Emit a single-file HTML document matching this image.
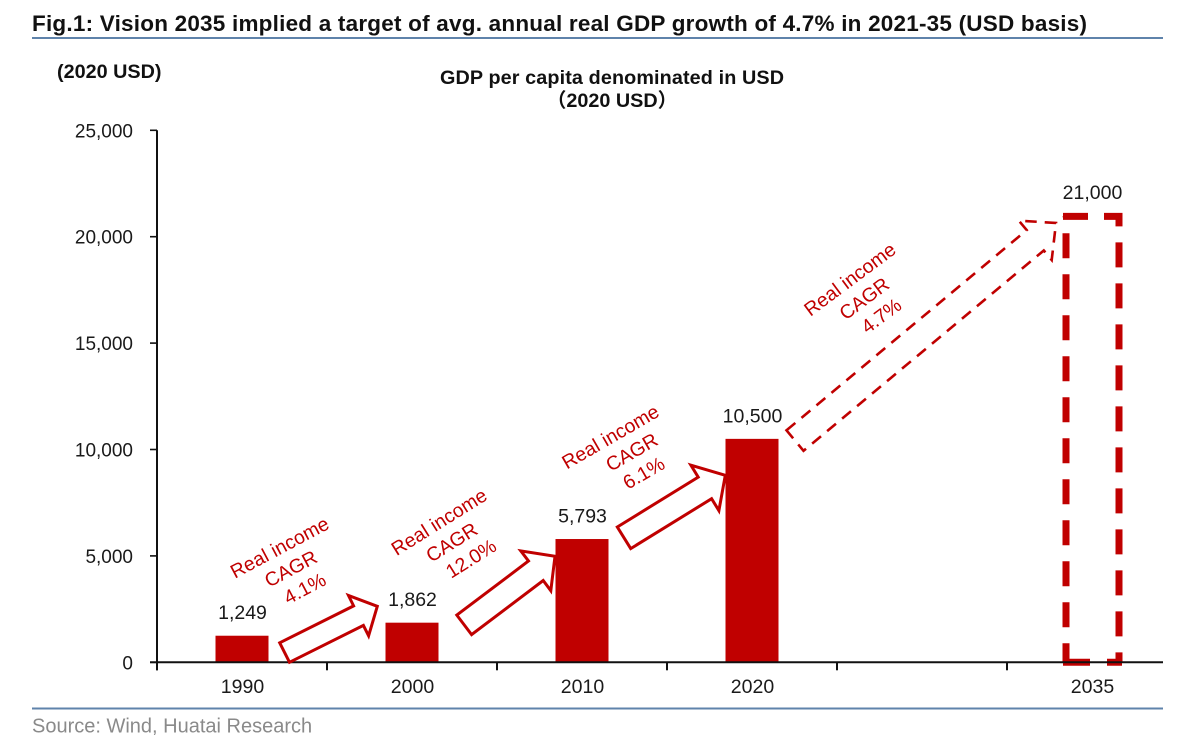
<!DOCTYPE html>
<html lang="en">
<head>
<meta charset="utf-8">
<title>Vision 2035 GDP per capita chart</title>
<style>
html,body{margin:0;padding:0;background:#fff;width:1203px;height:751px;overflow:hidden}
svg{display:block;font-family:"Liberation Sans",Arial,sans-serif}
</style>
</head>
<body>
<svg id="chart" width="1203" height="751" viewBox="0 0 1203 751" xmlns="http://www.w3.org/2000/svg">
  <rect width="1203" height="751" fill="#fff"/>
  <text x="32" y="31" font-size="22.5" font-weight="bold" fill="#111" textLength="1055" lengthAdjust="spacing">Fig.1: Vision 2035 implied a target of avg. annual real GDP growth of 4.7% in 2021-35 (USD basis)</text>
  <line x1="32" x2="1163" y1="38" y2="38" stroke="#5f83ab" stroke-width="2"/>
  <text x="57" y="78" font-size="19.8" font-weight="bold" fill="#111">(2020 USD)</text>
  <text x="612" y="84" font-size="19.8" font-weight="bold" fill="#111" text-anchor="middle" textLength="344" lengthAdjust="spacing">GDP per capita denominated in USD</text>
  <text x="612" y="107" font-size="19.8" font-weight="bold" fill="#111" text-anchor="middle" style="font-family:'Liberation Sans','Noto Sans CJK SC',sans-serif">（2020 USD）</text>
  <g id="plot"></g>
  <line x1="32" x2="1163" y1="708.5" y2="708.5" stroke="#5f83ab" stroke-width="2"/>
  <text x="32" y="732.5" font-size="20" fill="#8a8a8a">Source: Wind, Huatai Research</text>
</svg>
<script>
// ---- chart data ----
const categories = ['1990', '2000', '2010', '2020', '', '2035'];
const values = [1249, 1862, 5793, 10500, null, 21000];
const valueLabels = ['1,249', '1,862', '5,793', '10,500', '', '21,000'];
const projected = [false, false, false, false, false, true];
const yTicks = [0, 5000, 10000, 15000, 20000, 25000];
const yTickLabels = ['0', '5,000', '10,000', '15,000', '20,000', '25,000'];
const cagrFrom = [0, 1, 2, 3];
const cagrTo = [1, 2, 3, 5];
const cagrLabels = ['4.1%', '12.0%', '6.1%', '4.7%'];

// ---- axis functions ----
const RED = '#c00000';
const INK = '#1a1a1a';
const yScale = function (v) { return 662.3 - v * 532 / 25000; };
const xEdge = function (i) { return 157 + i * 170; };
const xCenter = function (i) { return xEdge(i) + 85; };
const BAR_W = 53;

const plot = document.getElementById('plot');
const NS = 'http://www.w3.org/2000/svg';
function make(tag, attrs, parent, text) {
  const el = document.createElementNS(NS, tag);
  Object.keys(attrs).forEach(function (k) { el.setAttribute(k, attrs[k]); });
  if (text !== undefined) el.textContent = text;
  (parent || plot).appendChild(el);
  return el;
}

// ---- historical and projected bars ----
categories.forEach(function (cat, i) {
  if (values[i] === null) return;
  const top = yScale(values[i]);
  const base = yScale(0);
  const cx = xCenter(i);
  if (!projected[i]) {
    const bar = make('rect', { x: cx - BAR_W / 2, y: top, width: BAR_W, height: base - top, fill: RED });
    
    
  } else {
    const g = make('g', { fill: 'none', stroke: RED, 'stroke-width': 7 });
    
    
    const l = cx - 26, r = cx + 27, t = top + 1;
    make('path', { d: 'M' + (l - 3) + ' ' + t + 'H' + r + 'V' + base, 'stroke-dasharray': '25 16' }, g);
    make('path', { d: 'M' + l + ' ' + base + 'V' + t, 'stroke-dasharray': '19 16 25 16 25 16 25 16 25 16 25 16 25 16 25 16 25 16 25 16 25 16' }, g);
    make('path', { d: 'M' + (l - 3) + ' ' + base + 'H' + (r + 3), 'stroke-dasharray': '27 17' }, g);
  }
  const lab = make('text', { x: cx + 0.5, y: top - 16.5, 'font-size': 19.5, fill: INK, 'text-anchor': 'middle' }, plot, valueLabels[i]);
  
  
});

// ---- axes ----
const yAxis = make('line', { x1: 157, x2: 157, y1: yScale(25000), y2: yScale(0) + 8, stroke: '#111', 'stroke-width': 2 });


const xAxis = make('line', { x1: 150, x2: 1163, y1: yScale(0), y2: yScale(0), stroke: '#111', 'stroke-width': 2 });



yTicks.forEach(function (t, i) {
  const y = yScale(t);
  const tick = make('line', { x1: 150, x2: 157, y1: y, y2: y, stroke: '#111', 'stroke-width': 1.6 });
  
  
  const lab = make('text', { x: 133, y: y + 7, 'font-size': 19, fill: INK, 'text-anchor': 'end' }, plot, yTickLabels[i]);
  
  
});

categories.forEach(function (cat, i) {
  const tick = make('line', { x1: xEdge(i), x2: xEdge(i), y1: yScale(0), y2: yScale(0) + 8, stroke: '#111', 'stroke-width': 2 });
  
  
  if (cat) {
    const lab = make('text', { x: xCenter(i) + 0.5, y: 693, 'font-size': 19.5, fill: INK, 'text-anchor': 'middle' }, plot, cat);
    
    
  }
});

// ---- growth arrows and their labels ----
const tailDx = [42.6, 52.2, 42, 43];
const tailDy = [16.8, 2.2, -1.2, 1.7];
const tipDx = [-34.7, -27, -26.7, -36];
const tipDy = [-16.4, 17.3, 36.4, 7.6];
const shaftHalf = [10.9, 12.2, 12.7, 13.3];
const headHalf = [22.5, 24.9, 26.7, 25.7];
const headLen = [21, 24, 24, 27];
const labelDx = [-40.3, -58, -43, -61.5];
const labelDy = [-61, -48.6, -54.6, -33.5];
const labelAngle = [-28, -32, -30, -36.7];
const line1Shift = [0, 0, -10.8, 0];
const line3Shift = [3, 7.7, 0, 3.4];

function arrowPoints(tx, ty, px, py, sw, hw, hl) {
  const dx = px - tx, dy = py - ty, len = Math.hypot(dx, dy);
  const ux = dx / len, uy = dy / len, nx = -uy, ny = ux;
  const bx = px - ux * hl, by = py - uy * hl;
  const pts = [
    [tx - nx * sw, ty - ny * sw], [bx - nx * sw, by - ny * sw], [bx - nx * hw, by - ny * hw],
    [px, py], [bx + nx * hw, by + ny * hw], [bx + nx * sw, by + ny * sw], [tx + nx * sw, ty + ny * sw]
  ];
  return pts.map(function (p) { return p[0].toFixed(1) + ',' + p[1].toFixed(1); }).join(' ');
}

cagrLabels.forEach(function (pct, i) {
  const a = cagrFrom[i], b = cagrTo[i];
  const tx = xCenter(a) + tailDx[i], ty = yScale(values[a]) + tailDy[i];
  const px = xCenter(b) + tipDx[i], py = yScale(values[b]) + tipDy[i];
  const dashed = projected[b];
  const arrow = make('polygon', {
    points: arrowPoints(tx, ty, px, py, shaftHalf[i], headHalf[i], headLen[i]),
    fill: 'none', stroke: RED, 'stroke-width': dashed ? 2.6 : 3,
    'stroke-dasharray': dashed ? '11.5 8' : 'none', 'stroke-linejoin': 'miter'
  });
  
  

  const cx = (tx + px) / 2 + labelDx[i], cy = (ty + py) / 2 + labelDy[i];
  const g = make('g', {
    transform: 'translate(' + cx.toFixed(1) + ' ' + cy.toFixed(1) + ') rotate(' + labelAngle[i] + ')',
    'font-size': 19.5, fill: RED, 'text-anchor': 'middle'
  });
  
  
  make('text', { x: line1Shift[i], y: -17 }, g, 'Real income');
  make('text', { x: 0, y: 7 }, g, 'CAGR');
  make('text', { x: line3Shift[i], y: 31 }, g, pct);
});
</script>
</body>
</html>
